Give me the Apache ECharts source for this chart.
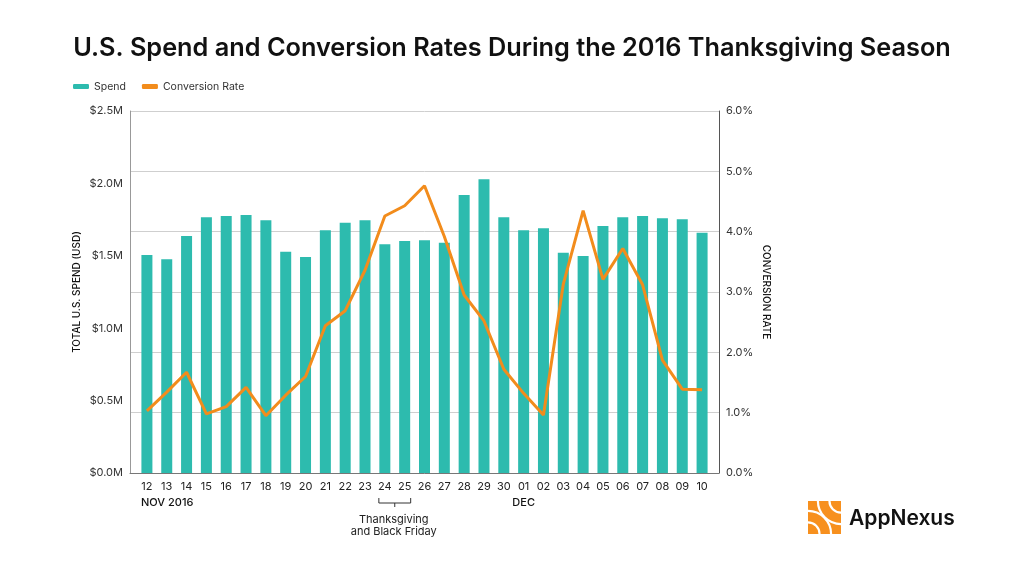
<!DOCTYPE html>
<html>
<head>
<meta charset="utf-8">
<script src="https://cdn.jsdelivr.net/npm/echarts@6/dist/echarts.min.js"></script>
<style>
html,body{margin:0;padding:0;background:#fff;}
#main{width:1024px;height:576px;}
</style>
</head>
<body>
<div id="main"></div>
<script>
const days = ['12','13','14','15','16','17','18','19','20','21','22','23','24','25','26','27','28','29','30','01','02','03','04','05','06','07','08','09','10'];
const spend = [1.506,1.476,1.637,1.766,1.775,1.782,1.745,1.528,1.492,1.676,1.729,1.745,1.579,1.602,1.607,1.590,1.920,2.028,1.766,1.676,1.690,1.521,1.499,1.706,1.766,1.775,1.759,1.752,1.659];
const conversion = [1.03,1.34,1.67,0.98,1.10,1.42,0.95,1.29,1.60,2.44,2.69,3.36,4.26,4.43,4.76,3.92,2.95,2.52,1.72,1.32,0.96,3.13,4.35,3.21,3.72,3.12,1.87,1.39,1.38];
const spendTicks = [0,0.5,1.0,1.5,2.0,2.5];
const rateTicks = [0,1,2,3,4,5,6];
const monthLabels = [{at:'12', text:'NOV 2016'}, {at:'01', text:'DEC'}];
const note = {from:'24', to:'25', lines:['Thanksgiving','and Black Friday']};

const TEAL = '#2DBBAE';
const ORANGE = '#F28C1C';
const FONT = 'Inter, "Liberation Sans", sans-serif';

const chart = echarts.init(document.getElementById('main'));
const option = {
  backgroundColor:'#fff',
  textStyle:{fontFamily:FONT},
  animation:false,
  title:{
    text:'U.S. Spend and Conversion Rates During the 2016 Thanksgiving Season',
    left:'center', top:31,
    textStyle:{fontFamily:FONT, fontSize:25.3, fontWeight:600, color:'#111'}
  },
  legend:{
    left:68, top:76, itemWidth:16, itemHeight:5, itemGap:16,
    textStyle:{fontSize:10.5, color:'#333', fontFamily:FONT},
    data:[{name:'Spend', icon:'roundRect', itemStyle:{color:TEAL}},
          {name:'Conversion Rate', icon:'roundRect', itemStyle:{color:ORANGE}}]
  },
  grid:[
    {left:130, right:305, top:111, bottom:103},
    {left:137, right:312, top:111, bottom:103}
  ],
  xAxis:[
    {type:'category', gridIndex:0, data:days, axisLine:{lineStyle:{color:'#777'}},
     axisTick:{show:false}, axisLabel:{show:false}},
    {type:'category', gridIndex:1, data:days, axisLine:{show:false}, axisTick:{show:false},
     axisLabel:{fontSize:11, color:'#222', margin:8, interval:0}}
  ],
  yAxis:[
    {type:'value', gridIndex:0, min:0, max:2.5, interval:0.5, position:'left',
     name:'TOTAL U.S. SPEND (USD)', nameLocation:'middle', nameGap:48, nameMoveOverlap:false,
     nameTextStyle:{fontSize:10, color:'#111', fontWeight:500},
     axisLine:{show:true, lineStyle:{color:'#999'}}, axisTick:{show:false},
     splitLine:{show:false},
     axisLabel:{fontSize:11, color:'#333', margin:7, formatter:v=>'$'+v.toFixed(1)+'M'}},
    {type:'value', gridIndex:0, min:0, max:6, interval:1, position:'right',
     name:'CONVERSION RATE', nameLocation:'middle', nameGap:42, nameRotate:-90, nameMoveOverlap:false,
     nameTextStyle:{fontSize:10, color:'#111', fontWeight:500},
     axisLine:{show:true, lineStyle:{color:'#555'}}, axisTick:{show:false},
     splitLine:{show:true, lineStyle:{color:'#cfcfcf'}},
     axisLabel:{fontSize:11, color:'#333', margin:7, formatter:v=>v.toFixed(1)+'%'}},
    {type:'value', gridIndex:1, min:0, max:2.5, show:false, splitLine:{show:false}},
    {type:'value', gridIndex:1, min:0, max:6, show:false, splitLine:{show:false}}
  ],
  series:[
    {name:'Spend', type:'bar', xAxisIndex:1, yAxisIndex:2, data:spend,
     barWidth:11, itemStyle:{color:TEAL}},
    {name:'Conversion Rate', type:'line', xAxisIndex:1, yAxisIndex:3, data:conversion,
     showSymbol:false, symbol:'none', lineStyle:{color:ORANGE, width:3}, itemStyle:{color:ORANGE}, z:5}
  ]
};
chart.setOption(option);

function px(cat){ return chart.convertToPixel({xAxisIndex:1}, cat); }
const g = [];
monthLabels.forEach(m=>{
  const x = px(m.at);
  g.push({type:'text', x: m.at==='12' ? x-6 : x, y:497,
    style:{text:m.text, font:'500 11px '+FONT, fill:'#111',
      textAlign: m.at==='12' ? 'left' : 'center', textVerticalAlign:'top'}});
});
const xa = px(note.from), xb = px(note.to);
const mid = (xa+xb)/2, half = (xb-xa)/2 + 6;
g.push({type:'polyline', shape:{points:[[mid-half,498],[mid-half,503],[mid+half,503],[mid+half,498]]},
  style:{stroke:'#333', lineWidth:1, fill:null}});
g.push({type:'line', shape:{x1:mid, y1:503, x2:mid, y2:507}, style:{stroke:'#333', lineWidth:1}});
note.lines.forEach((t,i)=>{
  g.push({type:'text', x:mid-1, y:514+i*12,
    style:{text:t, font:'11px '+FONT, fill:'#222', textAlign:'center', textVerticalAlign:'top'}});
});
// logo
const lx=808, ly=501, s=33;
g.push({type:'rect', shape:{x:lx, y:ly, width:s, height:s}, style:{fill:'#F7901E'}});
g.push({type:'group', clipPath:{type:'rect', shape:{x:lx,y:ly,width:s,height:s}}, children:[
  {type:'arc', shape:{cx:lx+s, cy:ly, r:s*0.35, startAngle:0, endAngle:Math.PI*2}, style:{stroke:'#fff', lineWidth:2.2, fill:null}},
  {type:'arc', shape:{cx:lx+s, cy:ly, r:s*0.7, startAngle:0, endAngle:Math.PI*2}, style:{stroke:'#fff', lineWidth:2.2, fill:null}},
  {type:'arc', shape:{cx:lx, cy:ly+s, r:s*0.35, startAngle:0, endAngle:Math.PI*2}, style:{stroke:'#fff', lineWidth:2.2, fill:null}},
  {type:'arc', shape:{cx:lx, cy:ly+s, r:s*0.7, startAngle:0, endAngle:Math.PI*2}, style:{stroke:'#fff', lineWidth:2.2, fill:null}}
]});
g.push({type:'text', x:849, y:519, style:{text:'AppNexus', font:'600 21px '+FONT, fill:'#111', textVerticalAlign:'middle'}});
chart.setOption({graphic:g});
</script>
</body>
</html>
